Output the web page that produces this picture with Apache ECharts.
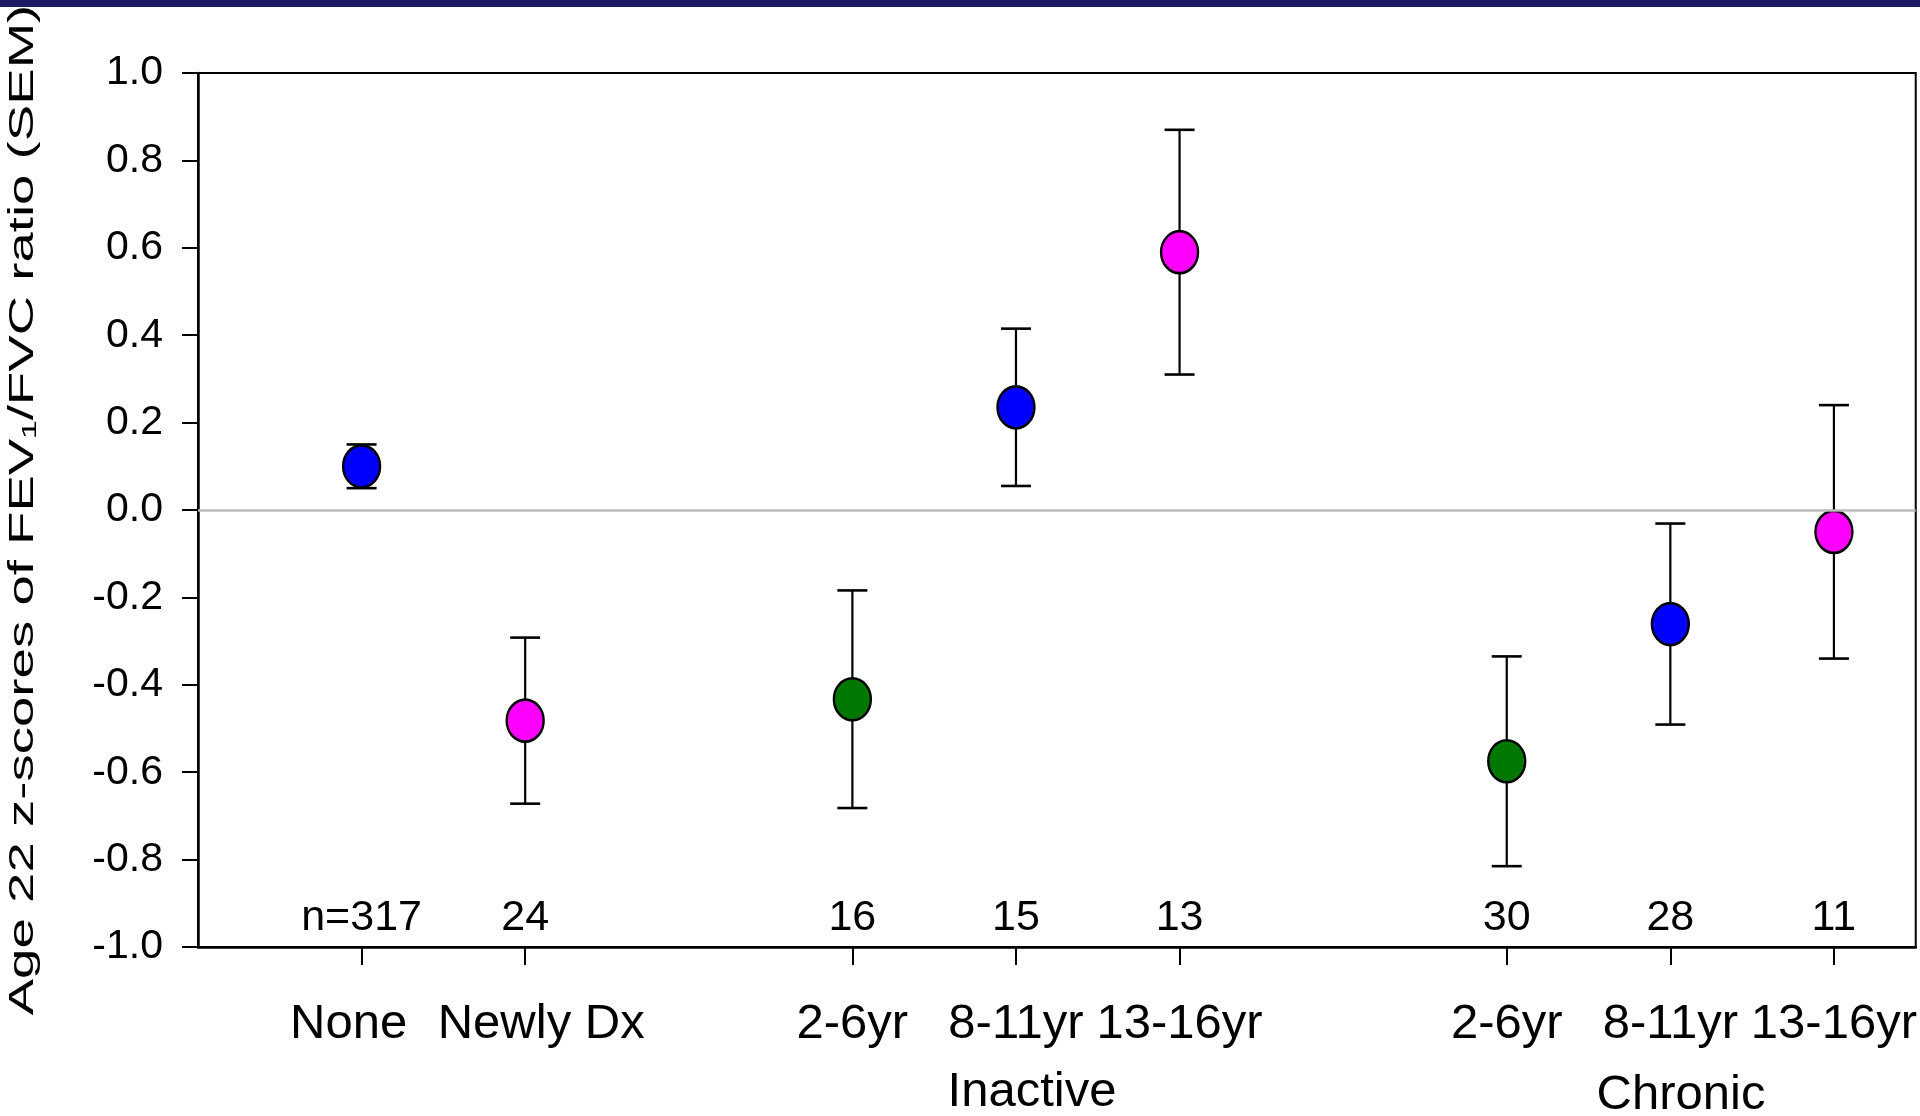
<!DOCTYPE html>
<html>
<head>
<meta charset="utf-8">
<script src="https://cdn.jsdelivr.net/npm/echarts@6/dist/echarts.min.js"></script>
<style>
html,body{margin:0;padding:0;background:#fff;}
#chart{width:1920px;height:1116px;}
</style>
</head>
<body>
<div id="chart"></div>
<script>
// ---- data ----
var categories = ['None', 'Newly Dx', '2-6yr', '8-11yr', '13-16yr', '2-6yr', '8-11yr', '13-16yr'];
var positions  = [1, 2, 4, 5, 6, 8, 9, 10];
var means      = [0.10, -0.482, -0.433, 0.235, 0.59, -0.575, -0.261, -0.05];
var sems       = [0.05, 0.19, 0.249, 0.18, 0.28, 0.24, 0.23, 0.29];
var nLabels    = ['n=317', '24', '16', '15', '13', '30', '28', '11'];
var groupLabels = ['Inactive', 'Chronic'];
var yTitle = 'Age 22 z-scores of FEV\u2081/FVC ratio (SEM)';

// ---- styling ----
var FONT = '"Liberation Sans", Arial, Helvetica, sans-serif';
var pointColors = ['#0000ff', '#ff00ff', '#007800', '#0000ff', '#ff00ff', '#007800', '#0000ff', '#ff00ff'];

var chart = echarts.init(document.getElementById('chart'), null, {renderer: 'canvas'});

function catFor(v) { return positions.indexOf(Math.round(v)); }

var pointData = positions.map(function (p, i) {
  return {value: [p, means[i]], itemStyle: {color: pointColors[i]}};
});
var errData = positions.map(function (p, i) { return [p, means[i], sems[i]]; });

var option = {
  animation: false,
  backgroundColor: '#ffffff',
  grid: {left: 198, right: 3, top: 73, bottom: 169, show: true, borderColor: '#000', borderWidth: 2, backgroundColor: 'transparent'},
  xAxis: [{
    type: 'value', min: 0, max: 10.5, position: 'bottom',
    splitLine: {show: false},
    axisLine: {show: true, onZero: false, lineStyle: {color: '#000', width: 2.5}},
    axisTick: {show: true, length: 18, lineStyle: {color: '#000', width: 2}, customValues: positions},
    axisLabel: {
      show: true, customValues: positions, margin: 53, color: '#000',
      fontFamily: FONT, fontSize: 49,
      formatter: function (v) {
        var i = catFor(v);
        if (i === 0) return '{l|' + categories[i] + '}';
        if (i === 1) return '{r|' + categories[i] + '}';
        return categories[i];
      },
      rich: {
        l: {fontFamily: FONT, fontSize: 49, color: '#000', padding: [0, 26, 0, 0]},
        r: {fontFamily: FONT, fontSize: 49, color: '#000', padding: [0, 0, 0, 32]}
      }
    }
  }, {
    type: 'value', min: 0, max: 10.5, position: 'bottom',
    splitLine: {show: false},
    axisLine: {show: false},
    axisTick: {show: false},
    axisLabel: {
      show: true, inside: true, customValues: positions, margin: 7, color: '#000',
      fontFamily: FONT, fontSize: 43,
      formatter: function (v) { return nLabels[catFor(v)]; }
    }
  }],
  yAxis: {
    type: 'value', min: -1, max: 1, interval: 0.2,
    splitLine: {show: false},
    axisLine: {show: true, onZero: false, lineStyle: {color: '#000', width: 2.5}},
    axisTick: {show: true, length: 16, lineStyle: {color: '#000', width: 2}},
    axisLabel: {
      margin: 35, color: '#000', fontFamily: FONT, fontSize: 41,
      formatter: function (v) { return (Math.abs(v) < 1e-9 ? 0 : v).toFixed(1); }
    }
  },
  series: [{
    type: 'custom',
    name: 'SEM',
    xAxisIndex: 0,
    data: errData,
    z: 2,
    renderItem: function (params, api) {
      var x = api.value(0), m = api.value(1), s = api.value(2);
      var top = api.coord([x, m + s]);
      var bot = api.coord([x, m - s]);
      var cw = 15;
      return {
        type: 'group',
        children: [
          {type: 'line', shape: {x1: top[0], y1: top[1], x2: bot[0], y2: bot[1]}, style: {stroke: '#000', lineWidth: 2.2}},
          {type: 'line', shape: {x1: top[0] - cw, y1: top[1], x2: top[0] + cw, y2: top[1]}, style: {stroke: '#000', lineWidth: 2.6}},
          {type: 'line', shape: {x1: bot[0] - cw, y1: bot[1], x2: bot[0] + cw, y2: bot[1]}, style: {stroke: '#000', lineWidth: 2.6}}
        ]
      };
    },
    markLine: {
      silent: true, symbol: 'none', label: {show: false},
      lineStyle: {color: '#bdbdbd', width: 2.5, type: 'solid'},
      data: [{yAxis: 0}]
    }
  }, {
    type: 'scatter',
    name: 'Mean',
    xAxisIndex: 0,
    z: 3,
    symbol: 'circle',
    symbolSize: [37, 42],
    itemStyle: {borderColor: '#000', borderWidth: 2.5, opacity: 1},
    data: pointData
  }],
  graphic: [
    {type: 'rect', left: 0, top: 0, shape: {width: 1920, height: 7}, style: {fill: '#1b1a63'}, z: 10},
    {type: 'text', x: 23, y: 510, rotation: Math.PI / 2, scaleX: 1.56, scaleY: 1,
     style: {text: yTitle, font: '35px ' + FONT, fill: '#000', textAlign: 'center', textVerticalAlign: 'middle'}},
    {type: 'text', x: 1032, y: 1092,
     style: {text: groupLabels[0], font: '49px ' + FONT, fill: '#000', textAlign: 'center', textVerticalAlign: 'middle'}},
    {type: 'text', x: 1681, y: 1095,
     style: {text: groupLabels[1], font: '49px ' + FONT, fill: '#000', textAlign: 'center', textVerticalAlign: 'middle'}}
  ]
};
chart.setOption(option);
</script>
</body>
</html>
